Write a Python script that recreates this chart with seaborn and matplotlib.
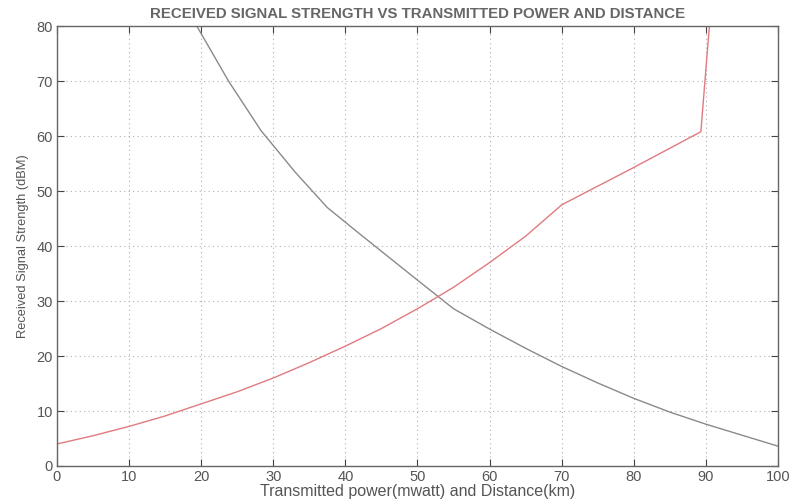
import matplotlib
matplotlib.use("Agg")
import matplotlib.pyplot as plt
import pandas as pd
import seaborn as sns

# transmitted power (mW) vs received signal strength
power_x = [0, 5, 10, 15, 20, 25, 30, 35, 40, 45, 50, 55, 60, 65, 70, 80, 89.3, 90.6]
power_y = [4.0, 5.5, 7.2, 9.1, 11.3, 13.5, 16.0, 18.8, 21.8, 25.0, 28.6, 32.5, 37.0, 41.8, 47.5, 54.3, 60.8, 82.0]

# distance (km) vs received signal strength
dist_x = [19.4, 23.8, 28.3, 33, 37.5, 42, 46, 50, 55, 60, 65, 70, 75, 80, 85, 90, 95, 100]
dist_y = [80.0, 70.0, 61.0, 53.5, 47.0, 42.2, 38.0, 33.8, 28.6, 24.9, 21.4, 18.1, 15.1, 12.3, 9.8, 7.6, 5.6, 3.6]

x_ticks = list(range(0, 101, 10))
y_ticks = list(range(0, 81, 10))

sns.set_style("white")
plt.rcParams["font.family"] = ["Liberation Sans", "DejaVu Sans"]

fig = plt.figure(figsize=(7.91, 5.03), dpi=100)
ax = fig.add_axes([0.072, 0.0736, 0.9116, 0.8744])

power_df = pd.DataFrame({"x": power_x, "y": power_y})
dist_df = pd.DataFrame({"x": dist_x, "y": dist_y})

sns.lineplot(data=dist_df, x="x", y="y", sort=False, color="#8a8a8a", linewidth=1.0, ax=ax)
sns.lineplot(data=power_df, x="x", y="y", sort=False, color="#e07a80", linewidth=1.0, ax=ax)

ax.set_xlim(0, 100)
ax.set_ylim(0, 80)
ax.set_xticks(x_ticks)
ax.set_yticks(y_ticks)
ax.grid(True, color="#b0b0b0", linestyle=(0, (1, 3)), linewidth=0.8)
ax.tick_params(direction="in", length=5, width=0.8, top=True, right=True,
               bottom=True, left=True, labelsize=10.5, colors="#444444",
               labelcolor="#555555", pad=3)
for spine in ax.spines.values():
    spine.set_visible(True)
    spine.set_edgecolor("#666666")
    spine.set_linewidth(1.0)

ax.set_title("RECEIVED SIGNAL STRENGTH VS TRANSMITTED POWER AND DISTANCE",
             fontsize=10.8, fontweight="bold", color="#666666", pad=6)
ax.set_xlabel("Transmitted power(mwatt) and Distance(km)", fontsize=11.5,
              color="#555555", labelpad=0)
ax.set_ylabel("Received Signal Strength (dBM)", fontsize=9.3, color="#555555", labelpad=5)

fig.savefig("out.png", dpi=100)
